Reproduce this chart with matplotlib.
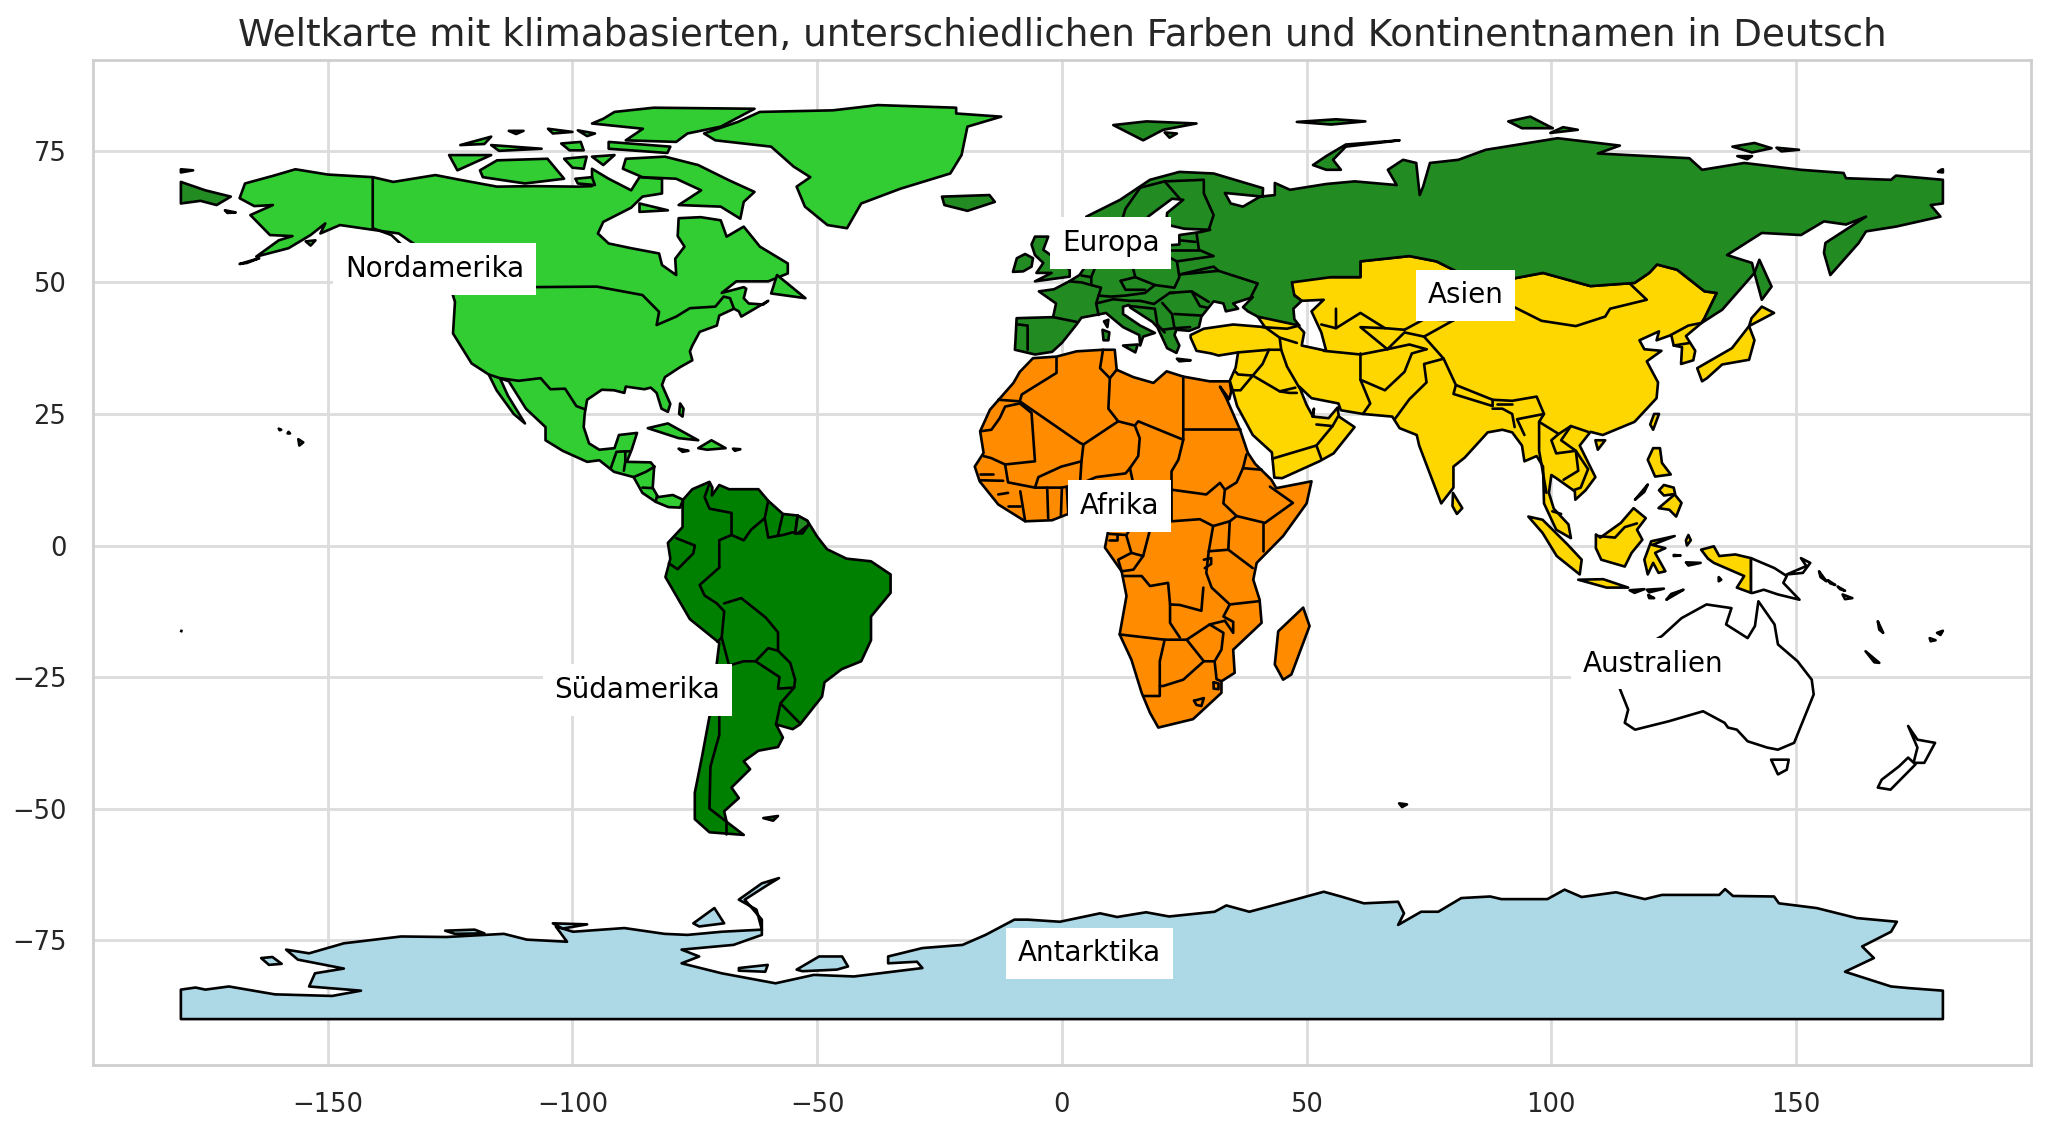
import matplotlib
matplotlib.use("Agg")
import matplotlib.pyplot as plt
import seaborn as sns

# outlines as (lon, lat)
north_america = [
    [(-168,66),(-166.9,68.8),(-161,70.3),(-156.6,71.5),(-150,70.5),(-140.8,70),(-136.6,69.1),(-128,70.4),(-123,69.5),(-115.4,68.2),(-108,68.3),(-99,68.2),(-96,68.3),(-96,71.6),(-92.6,69.7),(-88,67.5),(-86.3,70),(-81.7,69.7),(-81.7,66.9),(-85.7,66.3),(-88,64.2),(-93.7,61.5),(-94.8,59.3),(-92.6,57.4),(-88,56.5),(-82.3,55.5),(-81.7,53.3),(-78.8,51.4),(-79,54.5),(-77.1,56.8),(-78.5,58.8),(-78.3,62.2),(-73.8,62.4),(-69.7,61.8),(-68.5,58.7),(-65,60.6),(-61.7,56.8),(-56,53.6),(-56,51.7),(-60,50.2),(-66.5,50.2),(-69.5,48),(-65,49.1),(-64.5,48.8),(-65,47),(-64,46),(-61,45.8),(-60,46.5),(-65.5,43.5),(-66,44.5),(-67,45),(-70,43.7),(-70.5,41.8),(-74,40.6),(-75.5,38),(-76,36.9),(-75.5,35.2),(-78,33.9),(-81.1,32),(-81.7,30.5),(-80,26.9),(-80.5,25.4),(-81.8,26),(-82.8,29),(-84,30),(-85.3,29.7),(-89.1,30.2),(-89.4,29),(-91.5,29.5),(-94,29.6),(-97,27.7),(-97.5,25),(-97.7,22.5),(-96.6,19.4),(-94.5,18.2),(-91.4,18.5),(-90.5,21),(-86.8,21.4),(-87.9,18.2),(-88.9,15.9),(-84,15.8),(-83.3,15),(-83.6,11),(-82.5,9.2),(-79.5,9.6),(-77.4,8.7),(-78,7.2),(-80.4,7.3),(-83,8.3),(-85.7,10),(-87.5,13),(-91.5,14),(-94.5,16.2),(-97,15.9),(-102,18),(-105.5,20),(-105.5,22.5),(-109.5,26),(-113,31.2),(-114.8,31.8),(-113.2,28.5),(-109.7,23.2),(-112,25),(-115.5,29.5),(-117.1,32.5),(-120.6,34.6),(-124.4,40.3),(-124,46.3),(-124.7,48.4),(-122.7,49),(-127,51),(-130,54.5),(-132,57.1),(-135.5,59.3),(-140.8,60),(-147.5,60.9),(-151.5,59.3),(-150.5,61.2),(-153.5,59),(-158,56.5),(-164.6,54.9),(-160,58),(-157.2,58.8),(-161.8,59),(-165.8,62.8),(-161.2,64.7),(-165,64.5)],
    [(-73.1,78.3),(-70.8,77),(-59.4,75.8),(-54.8,72),(-51.4,70),(-54.2,68.2),(-52.5,64.4),(-47.9,60.9),(-43.9,60.3),(-41,65),(-33,67.8),(-22.8,70.7),(-20.5,74.2),(-19.3,79.6),(-12.4,81.5),(-21.6,82.1),(-21.6,83.2),(-37.6,83.7),(-46.8,82.7),(-61.7,82.4),(-66.2,80.5)],
    [(-91.4,82.4),(-83.4,83.2),(-62.8,83),(-69.7,79.6),(-76.5,78.3),(-78.8,76.7),(-89.1,77),(-85.6,79.2),(-96,80.2),(-93.7,81.1)],
    [(-92.6,76.7),(-80,75.8),(-80.6,74.6),(-92.6,75.4)],
    [(-89.1,73.5),(-81.1,73.9),(-74.3,72.3),(-68,69.4),(-62.8,67.2),(-65,65.3),(-65.7,62.1),(-69.7,64.4),(-78.3,64.7),(-73.7,67.5),(-78.8,69.7),(-85.7,70),(-89.7,71.6)],
    [(-86.3,65),(-80.5,63.7),(-86.3,63.4)],
    [(-118.9,71.3),(-115.4,73.2),(-105.1,73.5),(-101.7,69.7),(-109.7,68.8),(-118.3,70)],
    [(-125.2,74.2),(-116.6,74.2),(-123.5,71.3)],
    [(-116.6,76.1),(-106.3,75.4),(-115,75)],
    [(-122.9,76.1),(-116.6,77.7),(-118,76.3)],
    [(-113,78.8),(-110,78.8),(-111.5,78.2)],
    [(-105,79.2),(-100,78.6),(-104,78.3)],
    [(-98.9,78.9),(-95.4,78.3),(-97,77.8)],
    [(-102.3,76.4),(-98.3,76.7),(-97.7,75.1),(-100.6,75.1)],
    [(-101.7,73.5),(-97.1,73.9),(-97.7,71.6),(-100,71.8)],
    [(-96,73.9),(-91.4,74.2),(-93.7,72.3)],
    [(-99.4,69.7),(-96,70),(-95.4,68.5),(-98.9,68.8)],
    [(-58.2,51.4),(-52.4,47),(-59.4,47.9)],
    [(-128,50.8),(-123.5,48.5),(-125,48.6)],
    [(-84.6,22.3),(-80.5,23.2),(-74.3,20),(-78.3,20.4)],
    [(-74.3,18.5),(-71.6,20),(-68.7,18.5),(-72.5,18.2)],
    [(-78.3,18.4),(-76.3,18),(-77.5,17.8)],
    [(-67.2,18.4),(-65.7,18.3),(-66.8,18)],
    [(-156,20.2),(-155,19.6),(-155.8,19)],
    [(-158,21.6),(-157.7,21.3),(-158.2,21.3)],
    [(-160,22.2),(-159.5,22),(-159.8,21.9)],
    [(-78,27),(-77.3,26),(-77.5,24.5),(-78.2,25)],
    [(-168,53.5),(-164,54.6),(-166.5,53.7)],
    [(-171,63.7),(-168.8,63.3),(-170.5,63.2)],
    [(-154.5,57.8),(-152.5,58),(-153.5,57)],
]
na_borders = [
    [(-140.8,70),(-140.8,60.3),(-137,59),(-133,55.5)],
    [(-122.7,49),(-95,49.2),(-85.7,47.6),(-82.3,44.4),(-82.8,41.9),(-78.8,43.5),(-76,45.1),(-70.8,45.4),(-69.1,47.3),(-67.8,47),(-67,45)],
    [(-117.1,32.5),(-114.8,31.8),(-111,31.3),(-106.5,31.8),(-104.5,29.7),(-101.5,29.8),(-99.2,26.5),(-97.5,25.9)],
    [(-92.2,14.6),(-91,17.8),(-89.2,17.9),(-88.2,17.9)],
    [(-89.2,17.9),(-89.2,15.9),(-89.5,14.2)],
    [(-87.5,13),(-85,14),(-83.2,15)],
    [(-85.7,11),(-83.7,10.9)],
    [(-83,8.3),(-82.7,9.5)],
]

south_america = [
    [(-77.4,8.7),(-75.5,10.7),(-72,12.1),(-71.4,11),(-71.5,9.5),(-70,11.5),(-68,10.7),(-62,10.7),(-60,8.5),(-57,6),(-54,5.7),(-52,4.7),(-50,1.7),(-48,-0.7),(-44,-2.5),(-39,-3),(-35,-5.5),(-35,-9),(-39,-13.5),(-39,-18),(-41,-22),(-45,-23.5),(-48.5,-26),(-49,-28.7),(-53.5,-34),(-55,-34.9),(-58.4,-34),(-57,-36.5),(-58,-38.3),(-62,-39),(-65,-41),(-63.7,-42.5),(-67.5,-46),(-66,-48),(-69,-50.5),(-68.5,-52.5),(-65,-55),(-72,-54.5),(-75,-52),(-75,-47),(-73.5,-40),(-71.5,-30),(-70,-18.5),(-76,-14),(-81,-6),(-80,-2.5),(-80.5,0.5),(-77.5,3.5),(-77.5,7)],
    [(-61,-51.8),(-58,-51.4),(-59,-52.3)],
]
sa_borders = [
    [(-72,11.8),(-73,9.2),(-72,7),(-67.5,6.2),(-67.5,2),(-70,1),(-70,-4.2)],
    [(-67.5,2),(-65,1),(-63.5,3),(-60.7,5.2)],
    [(-60,8.5),(-60.7,5.2),(-60,1.5),(-57,2),(-55,2.5),(-54,2.3),(-51.7,4)],
    [(-57,6),(-58,2)],[(-54,5.7),(-54.5,2.3)],
    [(-78.8,1.4),(-75,0),(-75.3,-1.5),(-78.5,-4.5),(-80.3,-3.4)],
    [(-70,-4.2),(-74,-7.5),(-73,-9.5),(-70.5,-11),(-69,-12.5),(-69.5,-17.5),(-70.4,-18.3)],
    [(-69,-11),(-65.5,-10),(-60.5,-13.7),(-58,-16.5),(-58,-20)],
    [(-69.5,-17.5),(-68,-22.8),(-65,-22),(-62.6,-22),(-60,-19.5),(-58,-20)],
    [(-58,-20),(-55.5,-22.3),(-54.5,-25.5),(-54.7,-27),(-58,-27.2),(-57.7,-25),(-62.6,-22)],
    [(-54.7,-27),(-57.5,-30),(-58.4,-34)],
    [(-57.5,-30),(-53.5,-33.8)],
    [(-68,-22.8),(-70,-30),(-70,-36),(-71.8,-42),(-72,-50),(-68.5,-52.5)],
    [(-68.6,-52.5),(-68.6,-54.9)],
]
french_guiana = [[(-54,5.7),(-52,4.7),(-51.7,4),(-53,2.3),(-54.5,2.3)]]

europe = [
    [(-5.5,36.3),(-9.6,37.2),(-9.5,38.7),(-9.25,43.2),(-1.8,43.4),(-1.2,46),(-4.7,48.3),(-1.6,48.7),(1.5,50.2),(3.6,51.4),(5,53.3),(8.2,53.6),(8.6,57),(10.6,57.7),(10,54.8),(12,54.2),(14.2,53.9),(18.6,54.7),(21,55.2),(21,57),(24,57.2),(24,59),(28.5,59.6),(30.3,60),(25,60.2),(21.3,61),(21.5,63.2),(24.8,65.7),(22.5,65.9),(17.6,62.5),(17,60.7),(18.8,59.8),(16.5,56.5),(14.3,55.5),(12.9,55.5),(11.2,59),(10.5,59.4),(8,58.1),(5.5,59),(5,62.5),(11.9,65.7),(18,69.5),(24,71),(31,70.7),(41.1,67.9),(41,66.3),(33.3,67),(34.5,65),(37,64.4),(40.5,66.3),(43.5,66.6),(43.5,68.9),(46.6,67.6),(54,68.7),(59.8,69.2),(68.4,68.5),(66.6,71.4),(69.7,73.3),(72.4,72.7),(73.1,66.6),(73.8,68.2),(75.2,72.7),(81,73.3),(86.6,75.2),(101.3,77.4),(114,76),(109.5,74.5),(128.2,73.6),(130.8,71.4),(139.4,72.7),(151,71.4),(159.7,70.8),(160.2,69.8),(169.4,69.5),(170.4,70.3),(180,69.5),(180,65),(177.5,64.7),(179.5,62.5),(170.4,60.6),(164.3,59.7),(162.8,57.5),(157,51.4),(155.7,55.6),(156,57.5),(164.3,62.5),(160.2,61),(155.7,61.6),(151,59),(143,59.4),(135.9,55.2),(141,53.7),(141.5,51.8),(134.9,44.8),(130.7,42.3),(131.3,43.2),(133.8,48),(131.3,48.3),(125.7,52.4),(121.6,53.4),(120,51.8),(117,49.9),(108,49.3),(98.3,51.8),(92,50.7),(87.5,49.2),(83,51),(76.5,54),(71,55),(61,54),(61,51),(55,51),(47,50),(47.5,47.5),(49,46.5),(47.3,45),(47.5,43),(48.5,41.8),(40,43.5),(38,44.5),(37,45.3),(39,47.2),(35,46),(36,45),(33.5,44.5),(33,46),(31,46.4),(28.5,43.5),(28,41.5),(26,40.8),(23.4,41),(23,40),(24,38),(23.4,36.6),(21.5,37.5),(19.5,41.5),(18.5,42.5),(14,45.2),(13.7,45.7),(12.5,45.4),(12.5,44),(16,41.8),(19,40.4),(16.6,39.7),(16,38),(15.8,40),(12.5,41.5),(9,44.2),(8,44),(4,43.3),(3,42),(0,38.5),(-2,36.8)],
    [(-6.2,57.2),(-5.5,58.7),(-2.8,58.7),(-3.8,56.2),(-0.5,54),(1.6,52.4),(1.6,51.1),(-5.5,50.2),(-2.1,51.8),(-5.2,51.8),(-3.8,53.7),(-5.5,55.2)],
    [(-10,52),(-9.2,54.6),(-7.5,55.4),(-5.9,54.6),(-6.2,53),(-7.9,52.1)],
    [(-24.5,66.3),(-14.8,66.6),(-13.7,65.3),(-19.3,63.6),(-24,64.7)],
    [(10.5,79.9),(16.6,77),(20.7,79),(27.5,80.2),(17.3,80.6)],
    [(21,78.5),(23.5,78.3),(22,77.5)],
    [(51.3,72.3),(54,71.4),(57,71.4),(55.4,73.3),(58,75.8),(69,77),(58,76.2),(54,74)],
    [(48,80.5),(56,81),(62,80.6),(55,80)],
    [(8.3,41),(9.7,40.5),(9.5,39),(8.5,39)],
    [(8.6,42.6),(9.5,42.9),(9.3,41.5)],
    [(12.5,38),(15.5,38.2),(15,36.7)],
    [(23.5,35.5),(26.3,35.2),(24,35)],
    [(142.5,54.3),(145,49.2),(143,46.7),(141.5,51.8)],
    [(91.2,80.6),(95.7,81.5),(100.3,79.3),(94,79.3)],
    [(99.8,78.4),(105.4,79),(102.4,79.5)],
    [(137,75.8),(141.5,76.5),(145,75.5),(141,74.7)],
    [(146,75.6),(150.6,75.2),(147,74.9)],
    [(138,74),(141,74),(140,73.4)],
    [(179.6,71.4),(180,71.5),(180,70.9),(179,71)],
    [(-180,69.1),(-175,67.5),(-169.8,66.3),(-172.7,64.7),(-176,65.5),(-180,65)],
    [(-180,71.5),(-177.5,71.3),(-180,70.9)],
]
eu_borders = [
    [(-8.9,42),(-7,41.8),(-7,37.2)],
    [(-1.8,43.4),(3,42.5)],
    [(1.5,50.2),(4,50),(6,49.5),(8,49),(7.5,47.5),(7,46),(7.5,43.8)],
    [(7.5,47.5),(10,47.3),(13,47.5),(17,48),(19,49.5),(23,49),(24,51),(23.5,54),(21,55.2)],
    [(4,51.3),(6,51),(6,49.5)],[(6,51),(7,53.3)],
    [(8.6,54.9),(10,54.8)],
    [(14.2,53.9),(15,51),(19,49.5)],
    [(12,50.3),(15,51)],[(12,50.3),(13,48.6),(17,48.6)],
    [(7,46),(10.5,46.8),(13.7,46.5),(16,46.5),(18.8,45.9),(22,48),(23,48)],
    [(22,48),(26.5,48.3),(28.2,45.5),(29.7,45.2)],
    [(26.5,48.3),(30,46.3)],
    [(23,44),(28.5,43.7)],[(20.5,46.1),(22.5,44),(23,41.3),(26.2,41.5)],
    [(14,45.5),(19,45),(19.5,42)],[(19.5,42),(21,40.5)],[(20.5,41),(23,41.3)],
    [(24,51.5),(32,52.2),(40,49.8),(38.5,47)],
    [(24,51.5),(31,53),(32,52.2)],[(23.5,54),(31,55),(28,56.2),(27.5,59.4)],
    [(21,56.2),(28,56.2)],[(24,58),(27.3,57.7)],
    [(30,60),(31,62.8),(29,66.9),(29,69.2)],
    [(12,61),(13,64),(16,68),(21,69.2),(29,69.5)],
    [(21,69.2),(24,66)],
]

asia = [
    [(26.3,40),(29,41.2),(35,42),(41.5,41.5),(40,43.5),(47.5,42.5),(49.5,40.5),(49,38),(54,37),(53,40.5),(51,44.5),(53.5,46.7),(49,46.5),(47,48),(47,50),(51,51.5),(55,51),(61,51),(61,54),(71,55),(76.5,54),(83,51),(87.5,49.2),(92,50.7),(98.3,51.8),(108,49.3),(117,49.9),(120,51.8),(121.6,53.4),(125.7,52.4),(131.3,48.3),(133.8,48),(131.3,43.2),(130.7,42.3),(127.5,39.8),(129.4,37),(129,35.2),(126.5,34.5),(126.7,37.7),(125,38),(124.5,40),(121.5,39),(122,40.7),(118,39),(119,37.3),(122.5,37),(119.5,35),(121.8,31),(121.5,28),(117,23.5),(110.5,21),(108,21.6),(105.8,19),(109,13),(107,10.5),(104.9,8.7),(104.8,10.3),(101,12.8),(100,13.4),(99.5,10),(100.5,7),(103.5,4),(104,1.4),(101,3),(98.5,8),(98.3,15),(97,17),(94.5,16),(94,19),(92,21.5),(90,22),(87,21.5),(82.3,16.7),(80,15),(80,11),(77.5,8),(73,19),(72.5,21),(69,22.3),(67.5,24.5),(61.5,25),(57,25.7),(56.5,27),(51,28),(48.5,30.2),(50,26.7),(51.3,24.5),(51.5,26),(51.2,24.5),(54.5,24.2),(56.3,26.2),(56.6,24.5),(59.8,22.5),(55.5,17.5),(52.6,16),(45,12.8),(43.4,12.9),(42.9,17.7),(39,21),(35.8,26.5),(34.9,29.5),(34.3,31.3),(35.5,33.8),(36,36.7),(32,36.1),(30.5,36.5),(27.5,37),(26.3,39.5)],
    [(95.3,5.5),(98.2,4.9),(103.3,0.2),(106.2,-2.7),(105.8,-5.5),(101.1,-2),(98.2,2.4)],
    [(105.5,-6.5),(110.6,-6.4),(115.7,-8),(111.3,-8)],
    [(109.1,2.1),(110,1.5),(114.2,4.3),(116.8,7.1),(119.3,5.2),(117.5,3),(118.6,1.1),(116.4,-1.4),(115,-4),(110.2,-2.7),(109.1,-0.5)],
    [(125.2,1.8),(120.4,0.8),(119,-2.7),(119.7,-5.5),(120.8,-3.3),(121.9,-5.2),(123.3,-4.9),(121.2,-1.4),(123.3,-0.5),(120.6,0.1)],
    [(120.8,18.5),(122.2,18.5),(122.6,15.7),(124.4,13.5),(121.2,13.1),(119.7,16.3)],
    [(122,10.5),(123,11.5),(125,11),(125.3,9.8),(123,9.5)],
    [(125.2,9.7),(126.6,8.1),(125.5,5.5),(124.1,6.8),(121.9,7.1)],
    [(117.1,8.7),(119.7,11.6),(119,10.2)],
    [(130.6,-0.8),(133.2,-0.15),(134.3,-2),(137.6,-1.7),(140.8,-2.4),(140.8,-9),(137.9,-8),(139.4,-5.8),(133.2,-3.3),(132,-2.5)],
    [(134.2,-6),(134.7,-6.5),(134.2,-6.8)],
    [(128,2),(128.5,1),(127.7,0),(127.5,1)],
    [(127.5,-3.2),(130.5,-3.3),(128,-3.8)],
    [(125,-1.8),(126.4,-1.9),(125,-2)],
    [(116,-8.5),(119,-8.3),(117,-9)],
    [(119.5,-8.4),(123,-8.2),(120,-8.9)],
    [(119.8,-9.4),(121,-10),(120,-10)],
    [(123.5,-10.3),(127,-8.4),(124.5,-9.2)],
    [(79.9,10),(81.8,7.1),(80.7,6),(79.8,7.5)],
    [(121,25),(122,25),(120.8,22),(120.2,23)],
    [(109,20),(111,20),(109.5,18.2)],
    [(129.8,33.7),(136.9,37.5),(140.4,41.7),(141.5,39),(140.4,35.3),(134.9,34.4),(131.8,31.8),(130.8,31.2)],
    [(140.9,43.2),(143,45.4),(145.5,44.2),(140.4,41.7)],
]
as_borders = [
    [(36,36.7),(42.3,37.2),(44.8,37.2),(44.5,39.5),(41.5,41.5)],
    [(41,41.5),(46,41.2),(48.5,41.8)],[(44.5,39.5),(48,38.5)],
    [(42.3,37.2),(41,34.5),(39,32.3),(36,32.5),(35.5,33)],
    [(35,29.5),(36.5,29.5),(39,32.3),(44.5,29.3),(47.7,30)],
    [(44.8,37.2),(46,34),(48.5,30)],
    [(61,36.5),(61,31.5),(63,27),(61.5,25)],
    [(53.5,37),(61,36.3),(66.5,37.3),(71,38.2),(74.5,37.3)],
    [(61,31.5),(66,29.5),(70,33),(71.5,36.5),(74.5,37.3)],
    [(68,24),(71,27.8),(74.5,31),(74,34.5),(78,35.5)],
    [(56,45),(56,41.3),(61,44.2),(66,41.3),(70,41)],[(53,42),(56,41.3)],
    [(66.5,37.3),(61,41.5),(66,41.3)],[(66.5,37.3),(70,40.5),(74,39.7)],
    [(70,41),(74,43),(80,42.8)],[(80,42.8),(80,45),(85,47),(87.5,49.2)],
    [(74,39.7),(80,42.8)],[(74,39.7),(78,35.5),(80.5,30.5),(88,27.7),(92,27.5),(97,28.3),(98.5,25),(97.5,23.5),(101.5,21.2),(104,22.7),(107.5,21.6)],
    [(80.5,30.5),(80,28.8),(88,26.5),(88,27.7)],
    [(88,26),(90,26),(92,25),(92.5,22.5)],
    [(89,26.8),(92,26.8)],
    [(98.5,25),(93,24),(94.5,21)],[(97.5,23.5),(97.5,18),(99,10)],
    [(101.5,21.2),(100,20),(101,17.5),(105,18),(105.5,14.2),(102.5,12.5)],
    [(104,22.7),(102,20),(105,18),(107.5,14.5),(106,11),(104.5,10.5)],
    [(100.2,6.5),(102,6)],
    [(87.5,49.2),(92,45.5),(98,42.7),(105,41.7),(111,43.5),(112,45),(119.5,46.7),(116,49.8)],
    [(124.4,40),(128,41.8),(130.7,42.3)],[(125,38),(128.3,38.5)],
    [(48,29),(46.5,29),(44.5,29.3)],[(52,23),(55.3,22.7),(56.4,24.5)],[(55.3,22.7),(52,19),(53,16.5)],
    [(43,16.5),(52,19)],
    [(109.7,1.8),(113,1.5),(115,3.5),(117.5,4.2)],
]
australia = [
    [(113.7,-22),(122.6,-17.2),(126.6,-13.8),(131.7,-11.2),(136.8,-11.9),(135.7,-15),(140.1,-17.6),(141.6,-15.3),(142.3,-10.6),(145.6,-15),(146.3,-18.8),(150.3,-22),(153.2,-25.5),(153.6,-28.3),(149.6,-37.5),(146.3,-38.8),(144.1,-38.4),(140.1,-37.2),(137.9,-35),(136.1,-34.6),(135.4,-33.7),(131,-31.5),(124,-33.4),(117.1,-35),(115,-33.7),(115.7,-31.2),(113.9,-27)],
    [(144.9,-40.7),(148.5,-40.7),(148.1,-42.6),(146.3,-43.5)],
    [(140.8,-2.4),(145.6,-4.3),(148.1,-5.8),(147.4,-7.1),(150.7,-10.3),(146.3,-9.3),(143.4,-8.4),(141.2,-9),(140.8,-9)],
    [(148.1,-5.5),(151.4,-5.2),(152.9,-3.3),(151,-2.4),(152.1,-3.9)],
    [(172.9,-34.3),(174.8,-36.9),(178.4,-37.5),(176.2,-41.3),(174,-41.3),(174.8,-38.4)],
    [(172.9,-40.3),(174.4,-41.6),(169.3,-46.4),(166.7,-46),(167.5,-44.5),(171,-42)],
    [(164.2,-20.1),(167,-22.3),(166,-22.2)],
    [(154.7,-4.9),(156.2,-6.8),(155,-6)],
    [(156.5,-6.6),(158,-7.5),(157,-7.2)],
    [(158.5,-7.8),(160,-8.6),(159,-8.3)],
    [(159.5,-9.3),(161.5,-10),(160,-10.2)],
    [(166.7,-14.4),(167.8,-16.6),(167,-16)],
    [(177.3,-17.6),(178.5,-18),(177.5,-18.2)],
    [(178.8,-16.6),(180,-16.2),(179.5,-17)],
    [(-180,-16.5),(-179.8,-16)],
    [(68.9,-49),(70.5,-49.2),(69.5,-49.7)],
]
africa = [
    [(-5.9,35.6),(-1.1,35.9),(3,36.9),(8.4,37.2),(10.8,37.2),(11.2,33.4),(14.6,32),(18.7,30.9),(21.4,33.1),(24.8,32.1),(30.2,31.2),(34.3,31.2),(34.6,29.3),(34.2,27.8),(32.3,30.2),(33.6,28),(36.4,22),(38,17.6),(39.5,15.5),(42.8,12.5),(43.8,10.9),(51,12.2),(50,8),(45.2,1.8),(39.8,-3.3),(39.1,-6.5),(40.4,-10.3),(40.8,-14.7),(35,-19.8),(35.3,-24.2),(32.6,-25.8),(32.6,-28),(26.8,-33),(19.7,-34.6),(18,-31.8),(16.3,-28),(14.2,-21.7),(11.8,-16.9),(13.2,-9.6),(12.2,-4.9),(8.8,-0.4),(9.5,3),(8.5,4.8),(5,5.9),(1,5.9),(-2,4.8),(-7.5,4.6),(-13,7.8),(-16.8,12.2),(-17.8,15),(-16,17.6),(-16.7,21.7),(-14.7,25.8),(-9.9,30.9),(-8.6,33)],
    [(49.3,-11.8),(50.6,-15.3),(46.9,-24.5),(45.2,-25.5),(43.5,-22.6),(44.2,-16.3)],
]
af_borders = [
    [(-1.1,35.7),(-1.1,32.8),(-8.2,28.7),(-8.6,27.4),(-13,27.7)],
    [(-8.6,27.4),(3.7,19.5),(4.4,19.2),(11.5,23.6),(9.5,26),(9.8,31.8),(7.8,33.7),(8.4,37.2)],
    [(11.2,33.4),(9.8,31.8)],[(24.8,32.1),(24.8,20.1),(15.6,23.6),(14.9,22.8),(11.5,23.6)],
    [(25,22.1),(36.4,22.1)],[(14.9,22.8),(15.9,20.4),(15.6,17),(13.9,14.7)],
    [(-16.7,21.7),(-14.4,22),(-12.7,24.2),(-11.6,26.4),(-8.6,27),(-6.2,25.2),(-5.5,16),(-11.6,15.4),(-14.4,16.6),(-16,17)],
    [(24.8,20.1),(23.8,16.3),(22.4,14.1),(22.4,10.6),(24.8,10.3),(29.5,9.7),(32.3,11.9),(33.3,10.6),(33,8),(35.7,5.6),(41.5,4.3),(47.2,8.1),(42.5,11.2)],
    [(22.4,10.6),(22.4,4.6),(28.2,5),(30.9,3.7),(34.3,4.6),(35.7,5.6)],
    [(4.4,19.2),(4,16),(-0.1,15),(-4.8,13),(-5.5,11),(-11,12),(-11.6,15.4)],
    [(4,16),(3.7,11.7),(7,13),(13,13.7),(13.9,14.7)],[(3.7,11.7),(2.7,6.4)],
    [(13.9,14.7),(15,10),(14.5,8),(9.7,5)],[(15,10),(18.8,9),(22.4,10.6)],
    [(-5.5,11),(0,11),(3.7,11.7)],[(0,11),(-0.2,5.7)],[(-3,11),(-2.8,5.2)],[(1,11),(1.3,6.2)],
    [(-8.5,10.3),(-7.5,4.6)],[(-11,7.5),(-8.5,7.5)],[(-13,9.7),(-11,10)],
    [(-16.7,13.5),(-14,13.5)],[(-16.7,12.4),(-12,12.3)],
    [(37,14.7),(37.7,17.3)],[(37,14.7),(40.8,14.4)],[(37,14.7),(35.7,12),(33.3,10.6)],
    [(41.1,4.3),(41.1,-1.1)],[(34.3,4.6),(34,-0.8),(39,-4.3)],
    [(9.7,2.2),(13.2,2),(14.5,4),(18,3)],[(9.7,1),(11.3,1),(11.3,2.2)],
    [(13.2,1.8),(14.2,-1.4),(11.5,-2.7),(12.2,-4.9)],[(14.2,-1.4),(16.6,-2),(14.6,-4.6),(12.2,-4.9)],[(18,3),(16.6,-2)],
    [(12.5,-5.8),(16.3,-5.8),(18,-7.7),(21.7,-7.1),(22.1,-11.2),(24.1,-11.3),(28.5,-12.4),(28.9,-8)],
    [(30.9,3.7),(30,-1.1),(29.5,-5.2),(30.6,-8),(34.3,-11.2),(40.1,-10.6)],
    [(30,-1.1),(34,-0.8)],[(29,-2.7),(30.5,-2.4),(30.5,-3.5),(29.2,-4.3)],
    [(34.3,-11.2),(33,-13.5),(35,-14.5),(35,-16.6),(33.3,-14.3)],
    [(22.1,-11.2),(22.1,-14.7),(24.1,-17.5)],[(11.8,-16.9),(21,-17.9),(25.5,-17.9),(30.2,-15),(33.3,-14.3)],
    [(30.2,-15),(33,-16.6),(32.6,-19.8),(31.2,-22),(31.6,-25.4),(32.6,-25.8)],
    [(25.5,-17.9),(29,-22),(31.2,-22)],
    [(21,-17.9),(20,-22),(20,-28.6),(16.6,-28.6)],
    [(20,-26.7),(20.7,-26.7),(24.8,-25.5),(29,-22)],
    [(31,-26),(32,-26.2),(32,-27.3),(31,-27.2),(31,-26)],
    [(27,-29.5),(29,-29),(28.5,-30.5),(27.5,-30.3),(27,-29.5)],
]
antarctica = [
    [(-180,-84.4),(-177,-84),(-175,-84.4),(-170.2,-83.8),(-160.8,-85.3),(-149.1,-85.6),(-143.2,-84.6),(-153.8,-83.8),(-152.6,-81.3),(-146.7,-80.4),(-156.1,-78.7),(-158.5,-76.8),(-153.8,-77.5),(-146.7,-75.6),(-135,-74.3),(-125.7,-74.4),(-114,-73.8),(-109.3,-74.9),(-101.1,-75.3),(-103.4,-72.4),(-99.9,-73.4),(-89.4,-72.7),(-81.2,-73.8),(-76.5,-74),(-69.5,-73.4),(-61.3,-73),(-62.4,-69.2),(-66,-67.3),(-61.3,-64.2),(-57.8,-63.2),(-60.1,-64.5),(-64.8,-67.3),(-61.3,-71.1),(-61.3,-74),(-67.1,-75.9),(-77.7,-76.8),(-74.1,-78.1),(-77.7,-79.4),(-69.5,-81.3),(-58.5,-83.2),(-50.7,-81.6),(-42.5,-81.9),(-28.5,-80.3),(-29.6,-79.1),(-35.5,-79.4),(-35.5,-78.1),(-28.5,-76.5),(-20.3,-75.9),(-15.6,-74),(-9.7,-71.1),(-7,-71.1),(-0.4,-71.5),(7.8,-69.9),(11.3,-70.6),(17.2,-69.7),(21.9,-70.5),(31.2,-69.6),(33.6,-68.4),(38.3,-69.6),(47.6,-67.3),(53.5,-65.8),(57,-66.7),(61.7,-68),(68.7,-67.7),(69.9,-69.9),(68.7,-72.1),(73.4,-69.6),(76.9,-69.6),(81.6,-67),(87.5,-66.7),(89.8,-67.2),(99.2,-67.2),(102.7,-65.4),(106.2,-66.8),(113.2,-65.9),(119.1,-67.2),(122.6,-66.4),(134.3,-66.4),(135.5,-65.3),(137.1,-66.6),(145.5,-66.7),(146.5,-68),(154.2,-68.9),(162.4,-70.8),(170.6,-71.5),(169.4,-73.4),(163.5,-76.2),(165.9,-78.4),(160,-81),(169.4,-83.8),(172.9,-84.1),(180,-84.6),(180,-90),(-180,-90)],
    [(-54.2,-80.6),(-49.6,-78.1),(-44.9,-78.1),(-43.7,-80),(-46,-80.6),(-53,-80.9)],
    [(-66,-80.3),(-60.1,-79.7),(-60.6,-81),(-66,-80.8)],
    [(-163.6,-78.4),(-161.3,-78.2),(-159.4,-79.5),(-162,-79.7)],
    [(-75.3,-71.8),(-71,-68.9),(-69,-71.8),(-74.1,-72.4)],
    [(-126,-73.2),(-120,-73),(-118,-73.7),(-124,-73.8)],
    [(-104,-71.8),(-97,-72),(-102,-72.8)],
]
label_names = ["Nordamerika", "Europa", "Asien", "Afrika", "Südamerika", "Australien", "Antarktika"]
label_lon = [-146.5, 0, 74.7, 3.7, -103.7, 106.4, -9]
label_lat = [51, 56, 46, 6, -29, -24, -79]

title = "Weltkarte mit klimabasierten, unterschiedlichen Farben und Kontinentnamen in Deutsch"

sns.set_theme(style="whitegrid")
plt.rcParams["font.family"] = ["DejaVu Sans"]

fig, ax = plt.subplots(figsize=(10.24, 5.64), dpi=200)
fig.subplots_adjust(left=0.0453, right=0.9917, top=0.9465, bottom=0.0555)

LW = 0.95

def draw_rings(rings, color):
    for ring in rings:
        xs, ys = zip(*ring)
        ax.fill(xs, ys, facecolor=color, edgecolor="black", linewidth=LW, joinstyle="round")

def draw_lines(lines):
    for line in lines:
        xs, ys = zip(*line)
        ax.plot(xs, ys, color="black", linewidth=LW, solid_capstyle="round")

draw_rings(north_america, "limegreen")
draw_lines(na_borders)
draw_rings(south_america, "green")
draw_lines(sa_borders)
draw_rings(french_guiana, "forestgreen")
draw_rings(africa, "darkorange")
draw_lines(af_borders)
draw_rings(asia, "gold")
draw_lines(as_borders)
draw_rings(europe, "forestgreen")
draw_lines(eu_borders)
draw_rings(australia, "white")
draw_rings(antarctica, "lightblue")

for name, lon, lat in zip(label_names, label_lon, label_lat):
    ax.text(lon, lat, name, fontsize=10, color="black", zorder=10,
            bbox=dict(facecolor="white", edgecolor="none", pad=4.2))

ax.set_xlim(-198, 198)
ax.set_ylim(-98.8, 92.2)
ax.set_xticks(range(-150, 151, 50))
ax.set_yticks(range(-75, 76, 25))
ax.tick_params(labelsize=9.3)
ax.grid(color="#dcdcdc", linewidth=1.0)
ax.set_title(title, fontsize=13.4, pad=5)
for s in ax.spines.values():
    s.set_linewidth(1.0)
    s.set_color("#cfcfcf")

fig.savefig("out.png", dpi=200)
